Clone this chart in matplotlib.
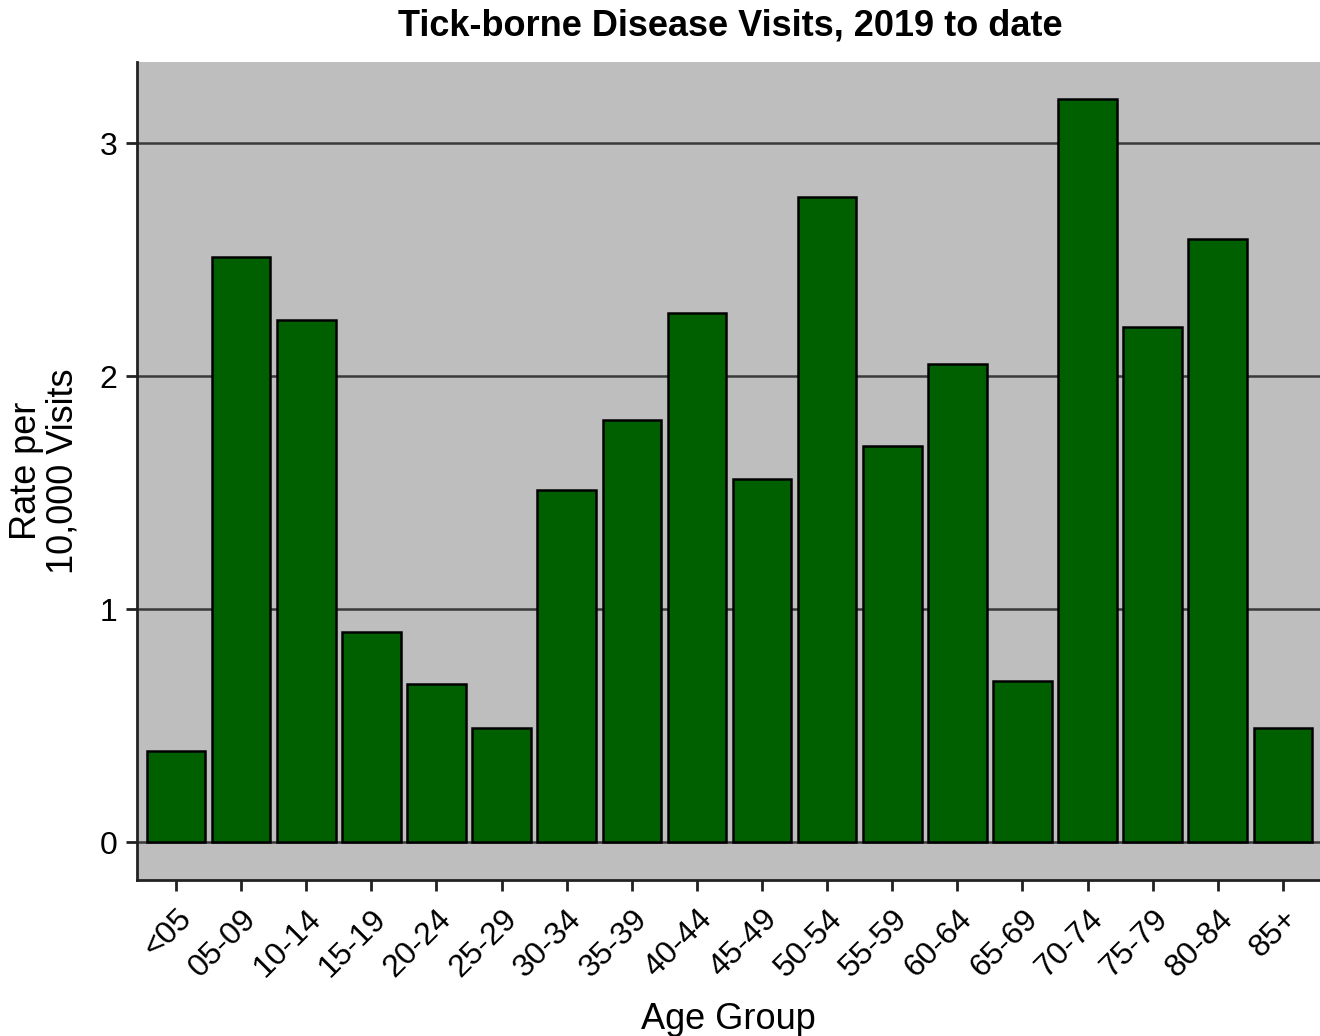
import matplotlib
matplotlib.use("Agg")
import matplotlib.pyplot as plt

categories = ["<05", "05-09", "10-14", "15-19", "20-24", "25-29", "30-34", "35-39",
              "40-44", "45-49", "50-54", "55-59", "60-64", "65-69", "70-74", "75-79",
              "80-84", "85+"]
rates = [0.39, 2.51, 2.24, 0.90, 0.68, 0.49, 1.51, 1.81, 2.27, 1.56, 2.77, 1.70,
         2.05, 0.69, 3.19, 2.21, 2.59, 0.49]
yticks = [0, 1, 2, 3]

plt.rcParams['font.family'] = ['Liberation Sans', 'DejaVu Sans']

fig = plt.figure(figsize=(13.2, 10.36), dpi=100)
ax = fig.add_axes([137/1320, 1 - 880/1036, (1320-137)/1320, (880-62)/1036])
ax.set_facecolor('#bebebe')

x = list(range(len(categories)))
ax.bar(x, rates, width=0.9, color='#006000', edgecolor='black', linewidth=1.8, zorder=3)

for yv in yticks:
    ax.axhline(yv, color='#3a3a3a', linewidth=1.8, zorder=2)

ax.set_xlim(-0.6, 17.57)
ax.set_ylim(-0.163, 3.348)
ax.set_yticks(yticks)
ax.set_yticklabels([str(v) for v in yticks], fontsize=23)
ax.set_xticks(x)
ax.set_xticklabels(categories, rotation=45, ha='right', va='top', fontsize=23,
                   rotation_mode='anchor')

for s in ['top', 'right']:
    ax.spines[s].set_visible(False)
for s in ['left', 'bottom']:
    ax.spines[s].set_linewidth(2)
    ax.spines[s].set_color('#222222')
ax.tick_params(axis='both', length=8, width=2, color='#222222', direction='out')
ax.tick_params(axis='y', pad=6)
ax.tick_params(axis='x', pad=9)

ax.set_xlabel("Age Group", fontsize=26, labelpad=14)
ax.set_ylabel("Rate per\n10,000 Visits", fontsize=26, labelpad=14, linespacing=1.05)
fig.suptitle("Tick-borne Disease Visits, 2019 to date", fontsize=26, fontweight='bold',
             x=730/1320, y=1 - 26/1036, va='center')

fig.savefig("out.png", dpi=100)
